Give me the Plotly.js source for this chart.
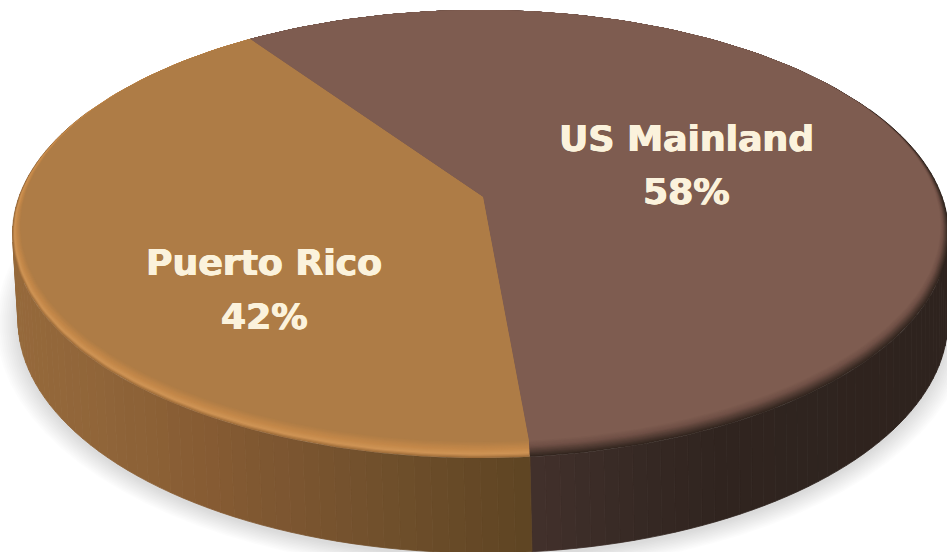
<!DOCTYPE html>
<html>
<head>
<meta charset="utf-8">
<script src="https://cdn.plot.ly/plotly-3.0.1.min.js"></script>
<style>html,body{margin:0;padding:0;background:#fff}#chart{width:947px;height:552px}</style>
</head>
<body>
<div id="chart"></div>
<script>
// Data
var categories = ['US Mainland', 'Puerto Rico'];
var shares = [58, 42];

// Styles
var topColors = ['#7E5C50', '#AE7C46'];
var rimStops = [
  [[0, '#33261f'], [0.3, '#4f3a32'], [0.65, '#705046'], [1, '#7E5C50']],
  [[0, '#a06e3b'], [0.2, '#cf9455'], [0.5, '#c48849'], [1, '#AE7C46']]
];
var wallStops = [
  [[530, '#42302c'], [620, '#382a25'], [720, '#30241f'], [950, '#2e231e']],
  [[10, '#96693b'], [100, '#906539'], [200, '#875c33'], [300, '#7a5530'], [400, '#6e4e2a'], [530, '#5e4423']]
];
var textColor = '#FBF2DC';
var labelCentres = [[686, 138, 191], [264, 262, 316]];

// Projection of the tilted disc into the picture's pixel axes
var startAngle = -34.5, K = -0.165, AX = 461.5, AY = 218, LEAN = 0.012;
var DISC = {cx: 480.5, cy: 234, rx: 468, ry: 224};
var INNER = {cx: 480.5, cy: 226, rx: 460, ry: 216};
var FLOOR = {cx: 483, cy: 320, rx: 465, ry: 233};
var VERTEX = [483, 197];

function unitPoint(deg) {
  var a = deg * Math.PI / 180, c = Math.sin(a), s = -Math.cos(a), d = 1 + K * s;
  var X = 480.5 + AX * c / d, Y = VERTEX[1] + AY * s / d;
  var u = (X - DISC.cx) / DISC.rx, v = (Y - DISC.cy) / DISC.ry;
  var u2 = Math.max(-1, Math.min(1, u - LEAN * (1 - u * u)));
  var v2 = (v < 0 ? -1 : 1) * Math.sqrt(Math.max(0, 1 - u2 * u2));
  return [u2, v2];
}
function onEllipse(e, deg) {
  var u = unitPoint(deg);
  return [e.cx + e.rx * u[0], e.cy + e.ry * u[1]];
}
function hex(c) { return [1, 3, 5].map(function (i) { return parseInt(c.substr(i, 2), 16); }); }
function ramp(stops, t) {
  var i = 0;
  while (i < stops.length - 2 && t > stops[i + 1][0]) i++;
  var a = stops[i], b = stops[i + 1];
  var f = Math.max(0, Math.min(1, (t - a[0]) / (b[0] - a[0])));
  var ca = hex(a[1]), cb = hex(b[1]);
  return 'rgb(' + ca.map(function (v, k) { return Math.round(v + (cb[k] - v) * f); }).join(',') + ')';
}
function poly(xy, color, lw) {
  return {
    type: 'scatter', mode: 'lines', hoverinfo: 'skip', showlegend: false, fill: 'toself', fillcolor: color,
    x: xy.map(function (p) { return p[0]; }), y: xy.map(function (p) { return p[1]; }),
    line: {color: color, width: lw || 0.01}
  };
}

var traces = [];

// Soft ground shadow
for (var i = 0; i < 12; i++) {
  var f = i / 11, ring = [];
  for (var d = 0; d <= 360; d += 4) {
    var ang = d * Math.PI / 180;
    ring.push([FLOOR.cx + (FLOOR.rx + 22 - 22 * f) * Math.sin(ang), FLOOR.cy + 4 + (FLOOR.ry + 16 - 16 * f) * Math.cos(ang)]);
  }
  traces.push(poly(ring, 'rgba(0,0,0,0.012)'));
}

// Slice angles from the shares
var total = shares.reduce(function (a, b) { return a + b; }, 0);
var spans = [], acc = startAngle;
shares.forEach(function (v) { spans.push([acc, acc + 360 * v / total]); acc += 360 * v / total; });

// Side wall: shaded strips for the front part of each slice
spans.forEach(function (sp, idx) {
  var a0 = Math.max(sp[0], 65), a1 = Math.min(sp[1], 295), n = 70;
  for (var k = 0; k < n; k++) {
    var t0 = a0 + (a1 - a0) * k / n, t1 = a0 + (a1 - a0) * (k + 1) / n;
    var p0 = onEllipse(DISC, t0), p1 = onEllipse(DISC, t1), q0 = onEllipse(FLOOR, t0), q1 = onEllipse(FLOOR, t1);
    traces.push(poly([p0, p1, q1, q0, p0], ramp(wallStops[idx], (p0[0] + p1[0]) / 2), 0.8));
  }
});

// Top surface with bevelled rim
function sliceOn(e, sp) {
  var pts = [VERTEX], steps = 120;
  for (var k = 0; k <= steps; k++) pts.push(onEllipse(e, sp[0] + (sp[1] - sp[0]) * k / steps));
  pts.push(VERTEX);
  return pts;
}
var levels = 14;
for (var L = 0; L <= levels; L++) {
  var m = L / levels;
  var e = {
    cx: DISC.cx + (INNER.cx - DISC.cx) * m, cy: DISC.cy + (INNER.cy - DISC.cy) * m,
    rx: DISC.rx + (INNER.rx - DISC.rx) * m, ry: DISC.ry + (INNER.ry - DISC.ry) * m
  };
  spans.forEach(function (sp, idx) {
    traces.push(poly(sliceOn(e, sp), L === levels ? topColors[idx] : ramp(rimStops[idx], m)));
  });
}

// Labels
var fat = '0.6px 0 0 ' + textColor + ', -0.6px 0 0 ' + textColor;
var textFont = {family: 'DejaVu Sans, Verdana, sans-serif', size: 36.2, color: textColor, weight: 700, shadow: fat};
var annotations = [];
categories.forEach(function (name, idx) {
  annotations.push({xref: 'x', yref: 'y', x: labelCentres[idx][0], y: labelCentres[idx][1], text: '<b>' + name + '</b>', showarrow: false, font: textFont, xanchor: 'center', yanchor: 'middle'});
  annotations.push({xref: 'x', yref: 'y', x: labelCentres[idx][0], y: labelCentres[idx][2], text: '<b>' + shares[idx] + '%</b>', showarrow: false, font: textFont, xanchor: 'center', yanchor: 'middle'});
});

Plotly.newPlot('chart', traces, {
  width: 947, height: 552,
  margin: {l: 0, r: 0, t: 0, b: 0},
  paper_bgcolor: '#ffffff', plot_bgcolor: '#ffffff',
  showlegend: false,
  xaxis: {range: [0, 947], visible: false, fixedrange: true},
  yaxis: {range: [552, 0], visible: false, fixedrange: true},
  annotations: annotations
}, {displayModeBar: false, staticPlot: true});
</script>
</body>
</html>
